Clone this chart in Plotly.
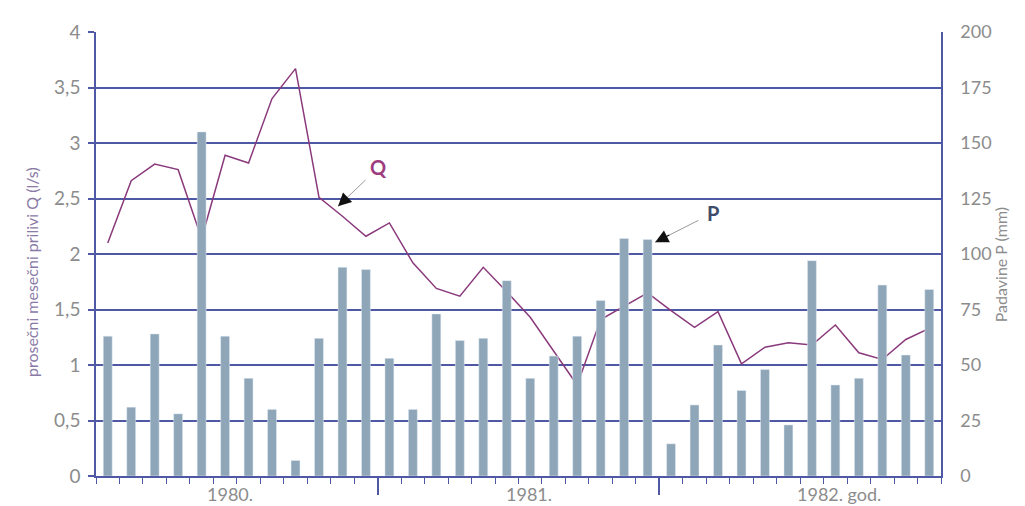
import plotly.graph_objects as go

# Monthly data, Jan 1980 - Dec 1982
months = list(range(36))
precip_P = [63, 31, 64, 28, 155, 63, 44, 30, 7, 62, 94, 93,
            53, 30, 73, 61, 62, 88, 44, 54, 63, 79, 107, 106.5,
            14.5, 32, 59, 38.5, 48, 23, 97, 41, 44, 86, 54.5, 84]
inflow_Q = [2.10, 2.66, 2.81, 2.76, 2.14, 2.89, 2.82, 3.40, 3.67, 2.51, 2.34, 2.16,
            2.28, 1.92, 1.69, 1.62, 1.88, 1.66, 1.43, 1.12, 0.82, 1.41, 1.53, 1.65,
            1.49, 1.34, 1.48, 1.01, 1.16, 1.20, 1.18, 1.36, 1.11, 1.05, 1.23, 1.33]
year_labels = ["1980.", "1981.", "1982. god."]
year_label_pos = [5.2, 17.95, 31.15]
year_bounds = [11.5, 23.5]

grid_c = "#4f58a5"
bar_c = "#8ea6b7"
line_c = "#8a3a7c"
txt_c = "#8c8c8c"
font_f = "Lato, 'Open Sans', sans-serif"

# page body has an 8px margin -> compensate
OFF = 8
W, H = 1025 - OFF, 506 - OFF
PL, PR, PT, PB = 96, 941, 22, 476   # plot area in page pixels

fig = go.Figure()
fig.add_trace(go.Bar(x=months, y=precip_P, yaxis="y2", marker_color=bar_c,
                     width=0.38, name="P"))
fig.add_trace(go.Scatter(x=months, y=inflow_Q, mode="lines", yaxis="y",
                         line=dict(color=line_c, width=1.5), name="Q"))

fig.update_layout(
    width=W, height=H,
    margin=dict(l=PL - OFF, r=1025 - PR, t=PT - OFF, b=506 - PB),
    plot_bgcolor="white", paper_bgcolor="white",
    showlegend=False,
    separators=", ",
    font=dict(family=font_f, color=txt_c),
    xaxis=dict(range=[-0.5, 35.5], showgrid=False, zeroline=False,
               showline=True, linecolor=grid_c, linewidth=1.5,
               tickmode="array", tickvals=year_bounds, ticktext=["", ""],
               ticks="outside", ticklen=17, tickcolor=grid_c, tickwidth=1.5,
               minor=dict(tickmode="linear", tick0=-0.5, dtick=1, ticks="outside",
                          ticklen=6, tickcolor=grid_c, tickwidth=1.2, showgrid=False)),
    yaxis=dict(range=[0, 4], dtick=0.5, showgrid=True, gridcolor=grid_c, gridwidth=1.5,
               zeroline=False, showline=True, linecolor=grid_c, linewidth=1.5,
               ticks="outside", ticklen=6, tickcolor=grid_c, tickwidth=1.5,
               ticklabelstandoff=4,
               tickfont=dict(size=19, color=txt_c, family=font_f)),
    yaxis2=dict(range=[0, 200], dtick=25, overlaying="y", side="right",
                showgrid=False, zeroline=False, showline=True, linecolor=grid_c,
                linewidth=1.5, ticks="", ticklabelstandoff=14,
                tickfont=dict(size=18, color=txt_c, family=font_f)),
)

pw, ph = PR - PL, PB - PT

# year labels
for lab, pos in zip(year_labels, year_label_pos):
    fig.add_annotation(x=pos, y=-(494 - PB) / ph, xref="x", yref="paper", text=lab,
                       showarrow=False, yanchor="middle",
                       font=dict(size=18, color=txt_c, family=font_f))

# axis titles
fig.add_annotation(xref="paper", yref="paper", x=(20 - PL) / pw, y=(PB - 268) / ph,
                   text="prosečni mesečni prilivi Q (l/s)", showarrow=False, textangle=-90,
                   font=dict(size=16, color="#8a7aa6", family=font_f))
fig.add_annotation(xref="paper", yref="paper", x=(1012 - PL) / pw, y=(PB - 260) / ph,
                   text="Padavine P (mm)", showarrow=False, textangle=-90,
                   font=dict(size=16, color=txt_c, family=font_f))

# series labels with arrows
def label_arrow(tx, ty, txt, color, tipx, tipy, tailx, taily):
    fig.add_annotation(x=tipx, y=tipy, ax=tailx, ay=taily, xref="x", yref="y",
                       axref="x", ayref="y", text="", showarrow=True,
                       arrowhead=0, arrowwidth=1, arrowcolor="#9a9a9a")
    fig.add_annotation(x=tipx, y=tipy, ax=tipx + (tailx - tipx) * 0.35,
                       ay=tipy + (taily - tipy) * 0.35, xref="x", yref="y",
                       axref="x", ayref="y", text="", showarrow=True,
                       arrowhead=2, arrowsize=2.2, arrowwidth=1.2, arrowcolor="#111111")
    fig.add_annotation(x=tx, y=ty, xref="x", yref="y", text="<b>%s</b>" % txt,
                       showarrow=False, font=dict(size=20, color=color, family=font_f))

label_arrow(11.52, 2.78, "Q", "#9e3c80", 9.81, 2.43, 11.05, 2.68)
label_arrow(25.79, 2.37, "P", "#3e4b6b", 23.32, 2.106, 25.23, 2.31)

fig.write_html("out.html")
